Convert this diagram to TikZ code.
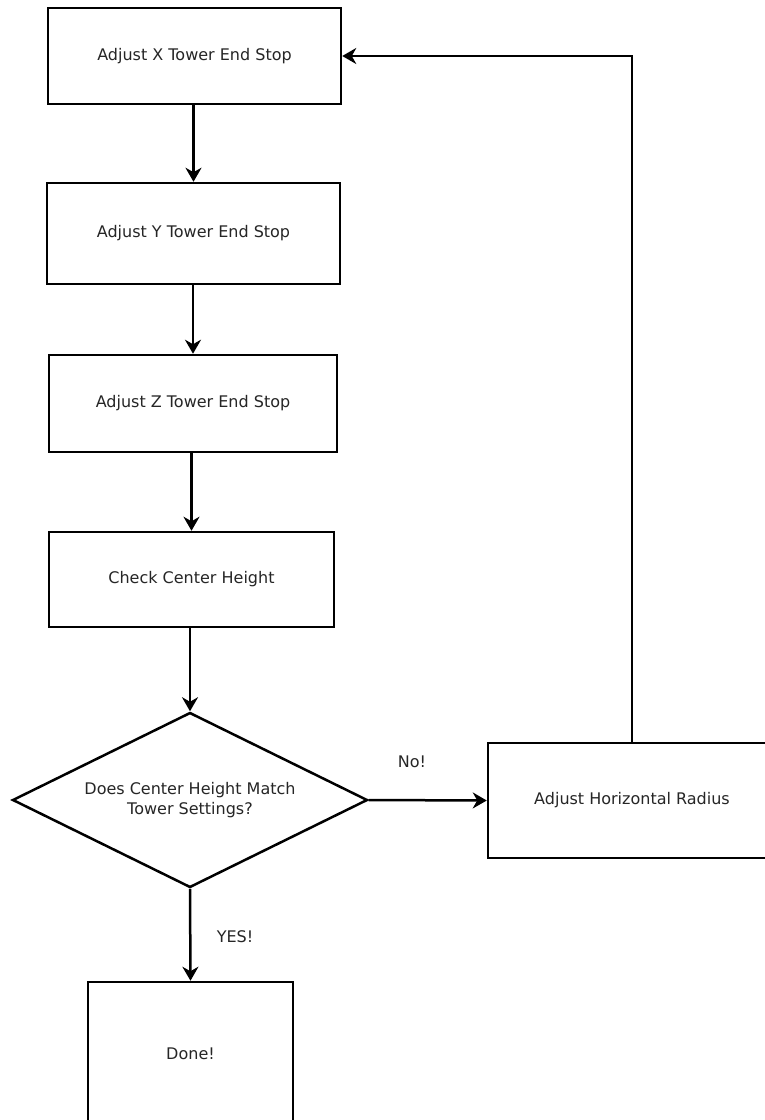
\documentclass[tikz,border=0pt]{standalone}
\usepackage{fontspec}
\setmainfont{DejaVu Sans}
\usetikzlibrary{arrows.meta,shapes.geometric}
\begin{document}
\begin{tikzpicture}[x=1pt,y=-1pt,
  box/.style={draw,line width=2.5pt,rectangle,inner sep=0pt,font=\fontsize{16}{19.5}\selectfont,text=black!85},
  dec/.style={draw,line width=2.5pt,diamond,aspect=2,inner sep=0pt,font=\fontsize{16}{19.5}\selectfont,text=black!85,align=center},
  lbl/.style={font=\fontsize{16}{19.5}\selectfont,text=black!85},
  conn/.style={line width=2.5pt,-{Stealth[length=14pt,width=16pt,inset=4.5pt]}}]
\useasboundingbox (0,0) rectangle (764,1120);
\fill[white] (0,0) rectangle (764,1120);
\node[box,minimum width=293pt,minimum height=96pt] (b1) at (194.5,56) {Adjust X Tower End Stop};
\node[box,minimum width=293pt,minimum height=101pt] (b2) at (193.5,233.5) {Adjust Y Tower End Stop};
\node[box,minimum width=288pt,minimum height=97pt] (b3) at (193,403.5) {Adjust Z Tower End Stop};
\node[box,minimum width=285pt,minimum height=95pt] (b4) at (191.5,579.5) {Check Center Height};
\node[dec,minimum width=355pt,minimum height=175pt] (d) at (190,800) {Does Center Height Match\\Tower Settings?};
\node[box,minimum width=288pt,minimum height=115pt] (hr) at (632,800.5) {Adjust Horizontal Radius};
\node[box,minimum width=205pt,minimum height=144pt] (done) at (190.5,1054) {Done!};
\node[lbl] (no) at (412,762) {No!};
\node[lbl] (yes) at (235,937) {YES!};
\draw[conn] (b2.north |- b1.south) -- (b2.north);
\draw[conn] (b3.north |- b2.south) -- (b3.north);
\draw[conn] (b4.north |- b3.south) -- (b4.north);
\draw[conn] (d.north |- b4.south) -- (d.north);
\draw[conn] (d.east) -- (hr.west);
\draw[conn] (d.south) -- (done.north);
\draw[conn] (hr.north) |- (b1.east);
\end{tikzpicture}
\end{document}
